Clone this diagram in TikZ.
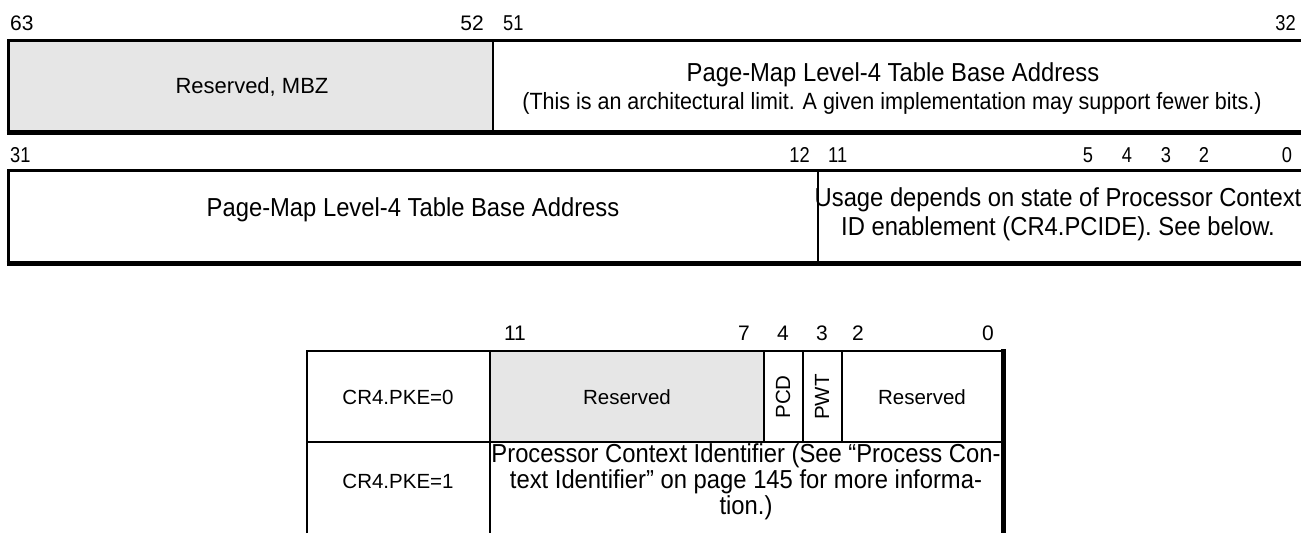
\documentclass[tikz,border=0pt]{standalone}
\usepackage{fontspec}
\setmainfont{Liberation Sans}
\newfontfamily\nar[FakeStretch=0.915]{Liberation Sans}
\newfontfamily\nard[FakeStretch=0.85]{Liberation Sans}
\definecolor{rsv}{HTML}{E6E6E6}
\begin{document}
\begin{tikzpicture}[x=1pt,y=-1pt,
  lbl/.style={font=\fontsize{21}{22}\selectfont, inner sep=0pt},
  nlbl/.style={font=\nard\fontsize{21.5}{22}\selectfont, inner sep=0pt},
  txt/.style={font=\fontsize{20.5}{24}\selectfont, inner sep=0pt, align=center},
  ntxt/.style={font=\nar\fontsize{26}{29}\selectfont, inner sep=0pt, align=center},
  thin/.style={line width=2.2pt},
  thick/.style={line width=5.5pt},
  med/.style={line width=3pt}]
\useasboundingbox (0,0) rectangle (1301,533);
% ---------- register 1 (bits 63..32) ----------
\fill[rsv] (8,40) rectangle (493,132);
\draw[med] (8,130) -- (8,40) -- (1301,40);
\draw[thin] (493,40) -- (493,132);
\draw[thick] (6.5,132.5) -- (1301,132.5);
\node[lbl, anchor=base west] (b63) at (10,30) {63};
\node[lbl, anchor=base east] (b52) at (484,30) {52};
\node[nlbl, anchor=base west] (b51) at (503,30) {51};
\node[nlbl, anchor=base east] (b32) at (1296,30) {32};
\node[txt, font=\fontsize{22}{24}\selectfont] (mbz) at (252,87) {Reserved, MBZ};
\node[ntxt] (pml4a) at (893,75) {Page-Map Level-4 Table Base Address};
\node[ntxt, font=\nar\fontsize{23.5}{26}\selectfont] (limit) at (892,103) {(This is an architectural limit. A given implementation may support fewer bits.)};
% ---------- register 2 (bits 31..0) ----------
\draw[med] (8,261) -- (8,170) -- (1301,170);
\draw[thin] (818,170) -- (818,263);
\draw[thick] (6.5,263.5) -- (1301,263.5);
\node[nlbl, anchor=base west] (b31) at (10,162) {31};
\node[nlbl, anchor=base east] (b12) at (810,162) {12};
\node[nlbl, anchor=base west] (b11) at (828,162) {11};
\node[nlbl, anchor=base] (b5) at (1088,162) {5};
\node[nlbl, anchor=base] (b4) at (1127,162) {4};
\node[nlbl, anchor=base] (b3) at (1166,162) {3};
\node[nlbl, anchor=base] (b2) at (1204,162) {2};
\node[nlbl, anchor=base] (b0) at (1287,162) {0};
\node[ntxt] (pml4b) at (413,210) {Page-Map Level-4 Table Base Address};
\node[ntxt] (usage) at (1058,214) {Usage depends on state of Processor Context\\ID enablement (CR4.PCIDE). See below.};
% ---------- table ----------
\fill[rsv] (490,351) rectangle (764,442);
\draw[thin] (307,533) -- (307,351) -- (1003,351);
\draw[thin] (307,442) -- (1003,442);
\draw[thin] (490,351) -- (490,533);
\draw[thin] (764,351) -- (764,442);
\draw[thin] (803,351) -- (803,442);
\draw[thin] (842,351) -- (842,442);
\draw[thick] (1003.5,349) -- (1003.5,533);
\node[lbl, anchor=base] (t11) at (515,340) {11};
\node[lbl, anchor=base] (t7) at (744,340) {7};
\node[lbl, anchor=base] (t4) at (783,340) {4};
\node[lbl, anchor=base] (t3) at (822,340) {3};
\node[lbl, anchor=base] (t2) at (858,340) {2};
\node[lbl, anchor=base] (t0) at (988,340) {0};
\node[txt] (pke0) at (398,397) {CR4.PKE=0};
\node[txt] (rsv1) at (627,397) {Reserved};
\node[txt, rotate=90] (pcd) at (783,397) {PCD};
\node[txt, rotate=90] (pwt) at (822,397) {PWT};
\node[txt] (rsv2) at (922,397) {Reserved};
\node[txt] (pke1) at (398,481) {CR4.PKE=1};
\node[ntxt, font=\nar\fontsize{26}{26}\selectfont] (pcid) at (746,482) {Processor Context Identifier (See “Process Con-\\text Identifier” on page 145 for more informa-\\tion.)};
\end{tikzpicture}
\end{document}
